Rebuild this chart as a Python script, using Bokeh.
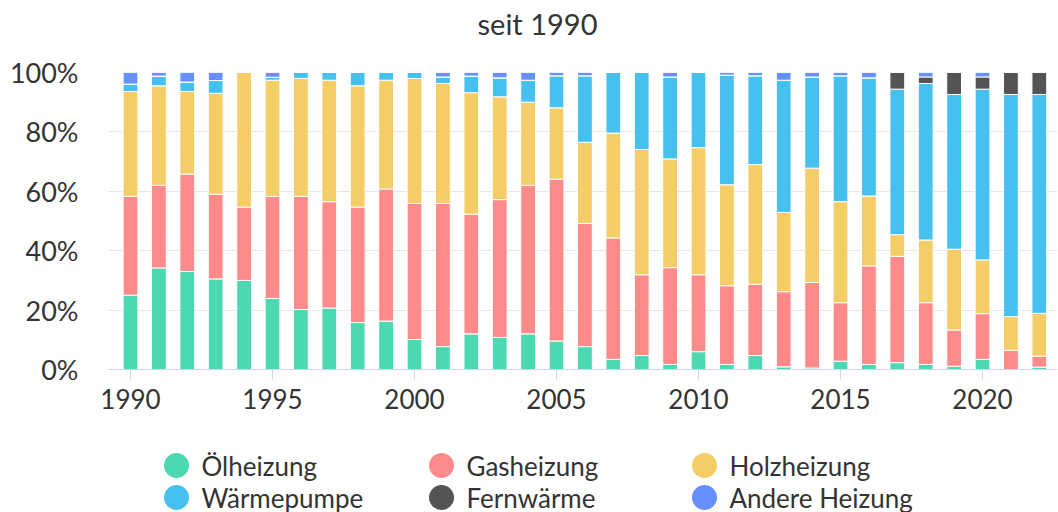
from bokeh.plotting import figure
from bokeh.models import Range1d, FixedTicker, PrintfTickFormatter, ColumnDataSource
from bokeh.layouts import column
from bokeh.embed import file_html
from bokeh.resources import INLINE
from bokeh.core.properties import value

years = list(range(1990, 2023))
oel = [25.0, 34.2, 33.0, 30.5, 30.0, 23.9, 20.2, 20.7, 15.8, 16.3, 10.1, 7.7, 12.0, 10.8, 12.0, 9.6, 7.7,
       3.4, 4.7, 1.7, 6.0, 1.7, 4.7, 0.9, 0.5, 2.8, 1.7, 2.3, 1.7, 1.1, 3.4, 0.0, 0.8]
gas = [33.3, 27.8, 32.8, 28.5, 24.7, 34.4, 38.1, 35.8, 38.9, 44.5, 45.8, 48.2, 40.3, 46.4, 50.0, 54.5, 41.5,
       40.9, 27.2, 32.6, 25.9, 26.5, 24.0, 25.3, 28.8, 19.7, 33.2, 35.8, 20.8, 12.2, 15.4, 6.5, 3.7]
holz = [35.3, 33.5, 27.8, 34.0, 45.3, 39.1, 39.7, 40.9, 40.8, 36.6, 42.1, 40.4, 40.9, 34.6, 28.0, 24.0, 27.3,
        35.3, 42.2, 36.6, 42.8, 34.0, 40.3, 26.7, 38.5, 34.0, 23.5, 7.3, 21.1, 27.2, 18.1, 11.3, 14.4]
wp = [2.5, 3.3, 3.2, 4.3, 0.0, 1.0, 2.0, 2.6, 4.5, 2.6, 2.0, 2.2, 5.6, 6.4, 7.4, 10.8, 22.4,
      20.4, 25.9, 27.6, 25.3, 36.9, 29.9, 44.5, 30.7, 42.4, 39.8, 49.0, 52.7, 52.1, 57.5, 74.8, 73.7]
fern = [0.0] * 27 + [5.6, 2.2, 7.4, 4.1, 7.4, 7.4]
andere = [3.9, 1.2, 3.2, 2.7, 0.0, 1.6, 0.0, 0.0, 0.0, 0.0, 0.0, 1.5, 1.2, 1.8, 2.6, 1.1, 1.1,
          0.0, 0.0, 1.5, 0.0, 0.9, 1.1, 2.6, 1.5, 1.1, 1.8, 0.0, 1.5, 0.0, 1.5, 0.0, 0.0]

labels = ["Ölheizung", "Gasheizung", "Holzheizung", "Wärmepumpe", "Fernwärme", "Andere Heizung"]
keys = ["oel", "gas", "holz", "wp", "fern", "andere"]
colors = ["#4cd9b1", "#ff8a8a", "#f4cd67", "#46c1ef", "#545457", "#6690ff"]
x_ticks = [1990, 1995, 2000, 2005, 2010, 2015, 2020]
y_ticks = [0, 20, 40, 60, 80, 100]
title_text = "seit 1990"

FONT = "Lato"
TXT = "#333333"
W = 1058
LEFT = 107
RIGHT = 1

source = ColumnDataSource(dict(year=years, oel=oel, gas=gas, holz=holz, wp=wp, fern=fern, andere=andere))


def blank_fig(h):
    f = figure(width=W, height=h, output_backend="svg", toolbar_location=None,
               x_range=Range1d(LEFT, W - RIGHT), y_range=Range1d(0, h),
               min_border_left=LEFT, min_border_right=RIGHT, min_border_top=0, min_border_bottom=0)
    f.axis.visible = False
    f.grid.visible = False
    f.outline_line_color = None
    return f


# title figure
tf = blank_fig(48)
tf.text(x=[537], y=[25], text=[title_text], text_align="center", text_baseline="middle",
        text_font=value(FONT), text_font_size="29px", text_color=TXT)

# main chart
p = figure(width=W, height=392, output_backend="svg", toolbar_location=None,
           x_range=Range1d(1989.19, 2022.64), y_range=Range1d(0, 100),
           min_border_left=LEFT, min_border_right=RIGHT, min_border_top=24, min_border_bottom=71)
p.outline_line_color = None

p.vbar_stack(keys, x="year", width=0.52, color=colors, source=source,
             line_color="white", line_width=1)

p.xgrid.grid_line_color = None
p.ygrid.grid_line_color = "#e6e6e6"
p.ygrid.grid_line_width = 1
p.ygrid.ticker = FixedTicker(ticks=y_ticks)

p.yaxis.ticker = FixedTicker(ticks=y_ticks)
p.yaxis.formatter = PrintfTickFormatter(format="%d%%")
p.yaxis.axis_line_color = None
p.yaxis.major_tick_line_color = None
p.yaxis.minor_tick_line_color = None
p.yaxis.major_tick_out = 0
p.yaxis.major_tick_in = 0
p.yaxis.major_label_standoff = 29
p.yaxis.major_label_text_font = FONT
p.yaxis.major_label_text_font_size = "27px"
p.yaxis.major_label_text_color = TXT

p.xaxis.ticker = FixedTicker(ticks=x_ticks)
p.xaxis.axis_line_color = "#ccd6eb"
p.xaxis.major_tick_line_color = "#ccd6eb"
p.xaxis.minor_tick_line_color = None
p.xaxis.major_tick_out = 10
p.xaxis.major_tick_in = 0
p.xaxis.major_label_standoff = 9
p.xaxis.major_label_text_font = FONT
p.xaxis.major_label_text_font_size = "26px"
p.xaxis.major_label_text_color = TXT

# legend figure
leg = blank_fig(72)
col_x = [176, 441, 704]
row_y = [47, 15]
cx = [col_x[i % 3] for i in range(6)]
cy = [row_y[i // 3] for i in range(6)]
leg.scatter(x=cx, y=cy, size=25, marker="circle", color=colors, line_color=None)
leg.text(x=[c + 25 for c in cx], y=cy, text=labels, text_baseline="middle", text_align="left",
         text_font=value(FONT), text_font_size="26px", text_color=TXT)

layout = column(tf, p, leg, spacing=0)
open("out.html", "w").write(file_html(layout, INLINE))
